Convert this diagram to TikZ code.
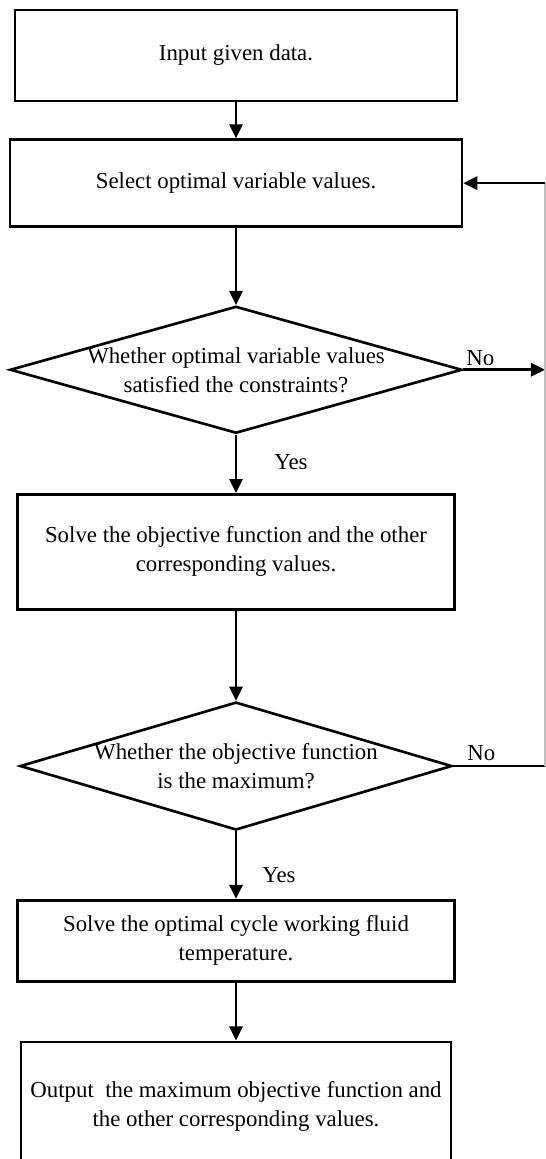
\documentclass[tikz,border=0pt]{standalone}
\usepackage{fontspec}
\setmainfont{Liberation Serif}
\usetikzlibrary{shapes.geometric, arrows.meta, positioning, calc}

\begin{document}
\begin{tikzpicture}[
      stepbox/.style={rectangle, draw=black, line width=1.5pt, fill=white,
                      minimum width=8.74cm, align=center,
                      font=\fontsize{13pt}{16.5pt}\selectfont},
      check/.style={diamond, draw=black, line width=1.5pt, fill=white,
                    inner xsep=-2.5cm, inner ysep=-0.3cm, align=center,
                    font=\fontsize{13pt}{16.5pt}\selectfont},
      lbl/.style={inner sep=0pt, font=\fontsize{13pt}{16.5pt}\selectfont},
      arr/.style={-{Triangle[length=8pt, width=7.5pt]}, line width=1.5pt},
      line/.style={line width=1.5pt}
    ]
      \useasboundingbox (0,0) rectangle (10.92,-23.18);
      \clip (0,0) rectangle (10.92,-23.18);

      % Steps of the search
      \node[stepbox, minimum width=8.84cm, minimum height=1.82cm] (input) at (4.72,-1.11) {Input given data.};
      \node[stepbox, minimum width=9.04cm, minimum height=1.74cm, below=0.72cm of input] (select) {Select optimal variable values.};
      \node[check, minimum width=9.04cm, minimum height=2.54cm, below=1.54cm of select] (feasible)
        {Whether optimal variable values\\satisfied the constraints?};
      \node[stepbox, minimum height=2.3cm, below=1.17cm of feasible] (solve)
        {Solve the objective function and the other\\corresponding values.};
      \node[check, minimum width=8.64cm, minimum height=2.56cm, below=1.8cm of solve] (maxcheck)
        {Whether the objective function\\is the maximum?};
      \node[stepbox, minimum height=1.62cm, below=1.35cm of maxcheck] (temp)
        {Solve the optimal cycle working fluid\\temperature.};
      \node[stepbox, minimum width=8.6cm, minimum height=2.6cm, below=1.16cm of temp] (output)
        {Output~ the maximum objective function and\\the other corresponding values.};

      % Branch labels
      \node[lbl] (no1) at ([xshift=0.34cm, yshift=0.24cm]feasible.east) {No};
      \node[lbl] (yes1) at ([xshift=1.1cm, yshift=-0.56cm]feasible.south) {Yes};
      \node[lbl] (no2) at ([xshift=0.56cm, yshift=0.26cm]maxcheck.east) {No};
      \node[lbl] (yes2) at ([xshift=0.86cm, yshift=-0.88cm]maxcheck.south) {Yes};

      % Main flow
      \draw[arr] (input) -- (select);
      \draw[arr] (select) -- (feasible);
      \draw[arr] (feasible) -- (solve);
      \draw[arr] (solve) -- (maxcheck);
      \draw[arr] (maxcheck) -- (temp);
      \draw[arr] (temp) -- (output);

      % Loop back on the right edge
      \coordinate (rim) at (10.9,0);
      \draw[arr] (feasible.east) -- (feasible.east -| rim);
      \draw[line] (maxcheck.east) -- (maxcheck.east -| rim);
      \draw[black!25, line width=0.6pt] (maxcheck.east -| rim) -- (select.east -| rim);
      \draw[arr] (select.east -| rim) -- (select.east);
    \end{tikzpicture}
\end{document}
